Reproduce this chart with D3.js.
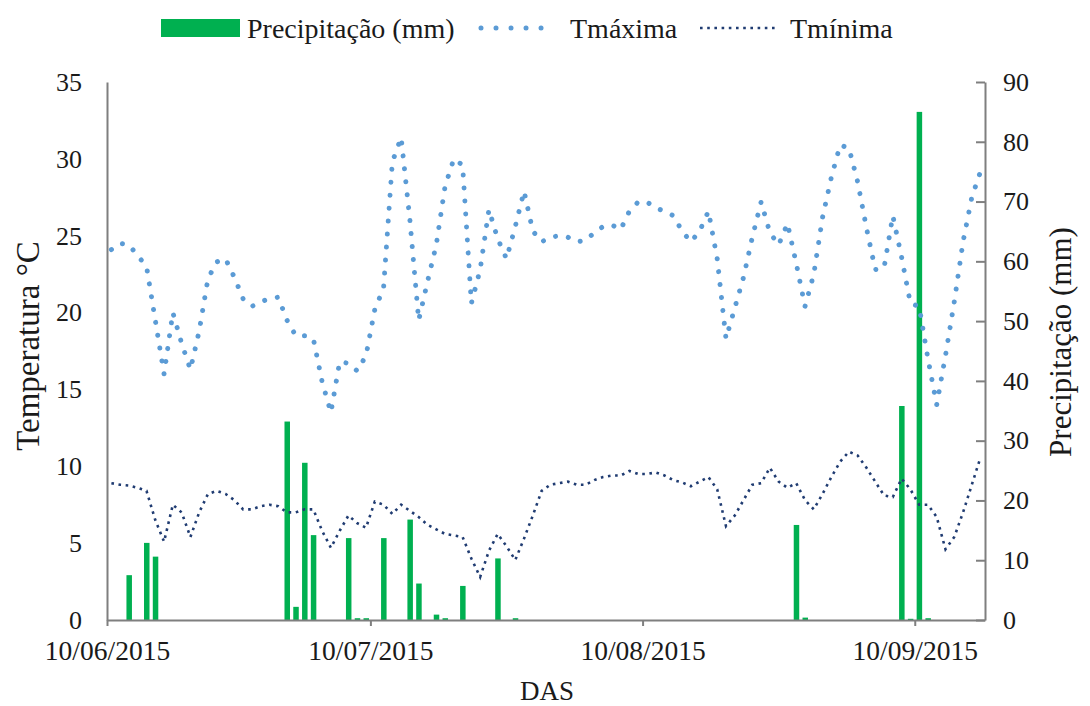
<!DOCTYPE html>
<html>
<head>
<meta charset="utf-8">
<script src="https://cdn.jsdelivr.net/npm/d3@7"></script>
<style>
  html, body { margin: 0; padding: 0; background: #ffffff; }
  svg { display: block; font-family: "Liberation Serif", "Times New Roman", serif; }
</style>
</head>
<body>
<svg id="chart" width="1090" height="706"></svg>
<script>
// Daily series, 10/06/2015 onwards (one value per day)
const startDate = new Date(Date.UTC(2015, 5, 10));
const dayCount = 100;

const precipitation = [
  0, 0, 7.5, 0, 12.9, 10.6, 0, 0, 0, 0,
  0, 0, 0, 0, 0, 0, 0, 0, 0, 0,
  33.2, 2.2, 26.3, 14.2, 0, 0, 0, 13.7, 0.3, 0.3,
  0, 13.7, 0, 0, 16.8, 6.1, 0, 0.9, 0.3, 0,
  5.7, 0, 0, 0, 10.3, 0, 0.3, 0, 0, 0,
  0, 0, 0, 0, 0, 0, 0, 0, 0, 0,
  0, 0, 0, 0, 0, 0, 0, 0, 0, 0,
  0, 0, 0, 0, 0, 0, 0, 0, 15.9, 0.4,
  0, 0, 0, 0, 0, 0, 0, 0, 0, 0,
  35.8, 0.2, 85.0, 0.3, 0, 0, 0, 0, 0, 0
];

const tMax = [
  24.1, 24.5, 24.4, 23.7, 23.0, 19.5, 16.0, 20.0, 18.0, 16.3,
  18.8, 22.2, 23.3, 23.5, 22.3, 20.9, 20.4, 20.7, 20.9, 21.0,
  19.5, 18.5, 18.5, 18.3, 15.5, 13.5, 16.8, 16.7, 16.2, 17.2,
  20.2, 21.6, 29.8, 31.4, 26.0, 19.5, 22.0, 24.4, 28.2, 30.0,
  29.6, 20.6, 22.8, 26.7, 24.8, 23.5, 25.6, 27.9, 25.3, 24.6,
  24.9, 25.0, 24.9, 24.6, 24.7, 25.2, 25.6, 25.7, 25.4, 26.6,
  27.2, 27.2, 26.8, 26.6, 26.3, 25.3, 24.6, 25.3, 26.6, 23.5,
  18.3, 20.3, 22.3, 24.9, 27.2, 25.2, 24.4, 25.8, 23.2, 20.4,
  22.5, 26.2, 28.8, 30.9, 30.7, 28.5, 25.5, 22.8, 22.9, 26.3,
  23.6, 20.6, 20.4, 17.0, 14.0, 17.2, 20.7, 24.6, 27.5, 29.2
];

const tMin = [
  8.9, 8.8, 8.75, 8.6, 8.4, 6.5, 5.1, 7.5, 7.0, 5.4,
  7.0, 8.2, 8.4, 8.2, 7.8, 7.2, 7.2, 7.4, 7.5, 7.4,
  7.0, 7.0, 7.2, 7.2, 5.8, 4.7, 5.8, 6.8, 6.3, 6.0,
  7.7, 7.5, 6.9, 7.5, 7.1, 6.7, 6.2, 5.9, 5.6, 5.5,
  5.4, 4.0, 2.8, 4.5, 5.6, 4.8, 3.9, 5.3, 6.8, 8.4,
  8.8, 8.9, 9.0, 8.8, 8.8, 9.1, 9.3, 9.4, 9.4, 9.7,
  9.5, 9.5, 9.6, 9.4, 9.1, 8.95, 8.7, 9.0, 9.3, 8.5,
  6.1, 6.8, 7.8, 8.8, 8.9, 9.9, 9.0, 8.6, 8.9, 7.8,
  7.2, 8.2, 9.3, 10.3, 10.95, 10.7, 9.9, 9.0, 8.1, 8.0,
  9.2, 8.5, 7.5, 7.5, 6.7, 4.6, 5.4, 7.0, 8.8, 10.6
];

const tempTicks = [0, 5, 10, 15, 20, 25, 30, 35];
const precipTicks = [0, 10, 20, 30, 40, 50, 60, 70, 80, 90];
const dateTicks = [
  new Date(Date.UTC(2015, 5, 10)),
  new Date(Date.UTC(2015, 6, 10)),
  new Date(Date.UTC(2015, 7, 10)),
  new Date(Date.UTC(2015, 8, 10))
];

const legendLabels = ["Precipitação (mm)", "Tmáxima", "Tmínima"];

// Colours and line styles
const GREEN = "#00b050";
const TMAX_COLOR = "#5b9bd5";
const TMIN_COLOR = "#203c72";
const AXIS_COLOR = "#7f7f7f";
const TEXT_COLOR = "#1a1a1a";
const FONT = "'Liberation Serif', 'Times New Roman', serif";

const days = d3.range(dayCount).map(i => d3.utcDay.offset(startDate, i));
const rows = days.map((d, i) => ({ date: d, p: precipitation[i], tmax: tMax[i], tmin: tMin[i] }));

const svg = d3.select("#chart");
const plot = { left: 107, right: 985, top: 82, bottom: 620 };

const x = d3.scaleUtc()
  .domain([startDate, d3.utcDay.offset(startDate, dayCount)])
  .range([plot.left, plot.right]);
const dayCenter = d => x(d3.utcHour.offset(d, 12));

const yT = d3.scaleLinear().domain([0, 35]).range([plot.bottom, plot.top]);
const yP = d3.scaleLinear().domain([0, 90]).range([plot.bottom, plot.top]);

// Precipitation bars
svg.append("g")
  .selectAll("rect")
  .data(rows.filter(r => r.p > 0))
  .join("rect")
  .attr("x", r => dayCenter(r.date) - 2.5)
  .attr("width", 5.5)
  .attr("y", r => yP(r.p))
  .attr("height", r => yP(0) - yP(r.p))
  .attr("fill", GREEN);

// Temperature lines
const lineMax = d3.line().x(r => dayCenter(r.date)).y(r => yT(r.tmax));
const lineMin = d3.line().x(r => dayCenter(r.date)).y(r => yT(r.tmin));

svg.append("path")
  .datum(rows)
  .attr("d", lineMin)
  .attr("fill", "none")
  .attr("stroke", TMIN_COLOR)
  .attr("stroke-width", 2.6)
  .attr("stroke-dasharray", "2.6 4.6");

svg.append("path")
  .datum(rows)
  .attr("d", lineMax)
  .attr("fill", "none")
  .attr("stroke", TMAX_COLOR)
  .attr("stroke-width", 5)
  .attr("stroke-linecap", "round")
  .attr("stroke-dasharray", "0.01 13");

// Axes
function styleAxis(size) {
  return g => {
    g.attr("font-family", FONT);
    g.select(".domain").attr("stroke", AXIS_COLOR).attr("stroke-width", 2);
    g.selectAll(".tick line").attr("stroke", AXIS_COLOR).attr("stroke-width", 2);
    g.selectAll(".tick text")
      .attr("fill", TEXT_COLOR)
      .style("font-family", FONT)
      .style("font-size", size + "px");
  };
}

svg.append("g")
  .attr("transform", `translate(${plot.left},0)`)
  .call(d3.axisLeft(yT).tickValues(tempTicks).tickSize(0).tickPadding(25).tickSizeOuter(0))
  .call(styleAxis(26));

svg.append("g")
  .attr("transform", `translate(${plot.right},0)`)
  .call(d3.axisRight(yP).tickValues(precipTicks).tickSize(-9).tickPadding(18).tickSizeOuter(0))
  .call(styleAxis(26));

svg.append("g")
  .attr("transform", `translate(0,${plot.bottom})`)
  .call(d3.axisBottom(x).tickValues(dateTicks).tickFormat(d3.utcFormat("%d/%m/%Y"))
    .tickSize(6).tickPadding(14).tickSizeOuter(0))
  .call(styleAxis(27.5));

// Axis titles
const titleStyle = size => sel => sel
  .attr("fill", TEXT_COLOR)
  .attr("text-anchor", "middle")
  .style("font-family", FONT)
  .style("font-size", size + "px");

svg.append("text")
  .attr("transform", "translate(39,346) rotate(-90)")
  .call(titleStyle(33))
  .text("Temperatura °C");

svg.append("text")
  .attr("transform", "translate(1071,342) rotate(-90)")
  .call(titleStyle(31))
  .text("Precipitação (mm)");

svg.append("text")
  .attr("x", 547)
  .attr("y", 700)
  .call(titleStyle(27))
  .text("DAS");

// Legend
const legend = svg.append("g")
  .style("font-family", FONT)
  .style("font-size", "28px")
  .attr("fill", TEXT_COLOR);
legend.append("rect").attr("x", 161).attr("y", 19).attr("width", 79).attr("height", 18).attr("fill", GREEN);
legend.append("text").attr("x", 247).attr("y", 38).text(legendLabels[0]);

legend.append("line")
  .attr("x1", 481).attr("x2", 556).attr("y1", 28).attr("y2", 28)
  .attr("stroke", TMAX_COLOR).attr("stroke-width", 5)
  .attr("stroke-linecap", "round").attr("stroke-dasharray", "0.01 15");
legend.append("text").attr("x", 570).attr("y", 38).text(legendLabels[1]);

legend.append("line")
  .attr("x1", 700).attr("x2", 778).attr("y1", 28).attr("y2", 28)
  .attr("stroke", TMIN_COLOR).attr("stroke-width", 2.6)
  .attr("stroke-dasharray", "2.6 4.6");
legend.append("text").attr("x", 790).attr("y", 38).text(legendLabels[2]);
</script>
</body>
</html>
